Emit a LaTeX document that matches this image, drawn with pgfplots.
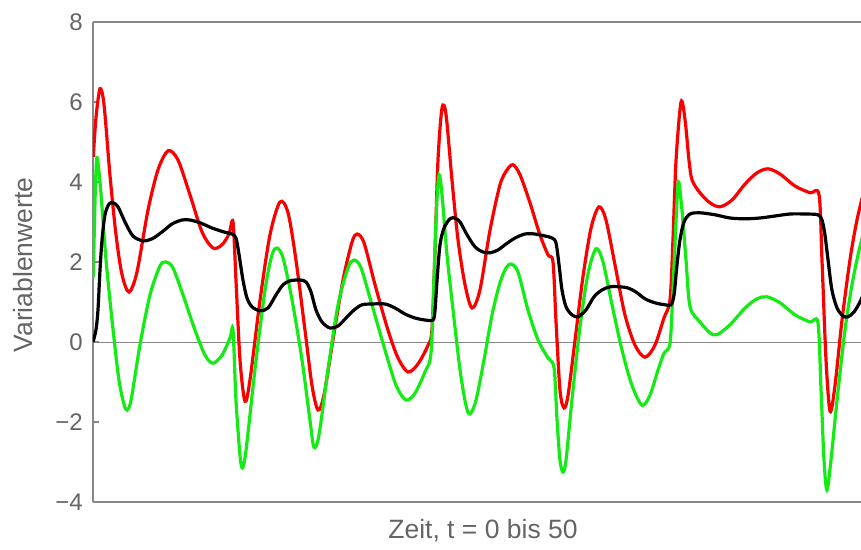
\documentclass[border=0pt]{standalone}
\usepackage{pgfplots}
\pgfplotsset{compat=1.18}
\usepackage{fontspec}
\setmainfont{Liberation Sans}
\definecolor{axgray}{RGB}{135,135,135}
\definecolor{txtgray}{RGB}{100,100,100}
\definecolor{myred}{RGB}{250,0,0}
\definecolor{mygreen}{RGB}{20,235,20}
\begin{document}
\begin{tikzpicture}
\useasboundingbox (-93pt,-47pt) rectangle (768pt,502pt);
\begin{axis}[
  at={(0pt,0pt)}, anchor=south west,
  scale only axis, width=777pt, height=480pt,
  xmin=0, xmax=50, ymin=-4, ymax=8,
  axis x line=box, axis y line=left,
  axis line style={-, axgray, line width=1.3pt},
  xtick=\empty,
  ytick={-4,-2,0,2,4,6,8},
  yticklabels={−4,−2,0,2,4,6,8},
  tick align=inside, major tick length=6pt,
  tick style={axgray, line width=1.1pt},
  yticklabel style={font=\fontsize{24}{24}\selectfont, text=txtgray, anchor=east, inner sep=0pt, xshift=-10pt},
  extra y ticks={0}, extra y tick labels={},
  extra y tick style={grid=major, major grid style={axgray, line width=1pt}},
  xlabel={Zeit, t = 0 bis 50},
  ylabel={Variablenwerte},
  every axis x label/.style={at={(axis description cs:0.5,0)}, anchor=base, yshift=-36pt, xshift=1.5pt, font=\fontsize{26.5}{26.5}\selectfont, text=txtgray},
  every axis y label/.style={at={(axis description cs:0,0.5)}, rotate=90, anchor=center, font=\fontsize{26.5}{26.5}\selectfont, text=txtgray, yshift=70pt, xshift=-3pt},
  every axis plot/.append style={line width=3.2pt, smooth, tension=0.5},
]
\addplot[myred] coordinates {
(0.02,4.63) (0.19,5.60) (0.45,6.33) (0.71,5.93) (1.09,4.18) (1.48,2.68) (1.87,1.68) (2.32,1.25)
(2.83,1.75) (3.54,3.30) (4.18,4.30) (4.83,4.78) (5.47,4.55) (6.24,3.68) (7.02,2.75) (7.72,2.35)
(8.30,2.43) (8.75,2.70) (9.01,3.00) (9.20,1.55) (9.46,-0.45) (9.78,-1.48) (10.10,-0.95) (10.75,1.05)
(11.39,2.68) (12.03,3.50) (12.55,3.23) (13.06,2.05) (13.64,0.30) (14.09,-1.08) (14.48,-1.70) (14.86,-1.33)
(15.44,0.05) (16.09,1.55) (16.67,2.50) (16.99,2.70) (17.44,2.48) (18.15,1.43) (18.98,0.30) (19.63,-0.40)
(20.27,-0.75) (20.91,-0.55) (21.56,-0.08) (21.81,0.30) (22.01,2.30) (22.20,4.55) (22.46,5.85) (22.72,5.68)
(23.10,4.05) (23.49,2.55) (23.94,1.43) (24.39,0.85) (24.90,1.30) (25.55,2.80) (26.19,3.93) (26.64,4.30)
(27.03,4.43) (27.48,4.18) (28.12,3.48) (28.76,2.68) (29.28,2.18) (29.60,2.00) (29.79,0.55) (30.05,-1.20)
(30.31,-1.65) (30.57,-1.33) (31.02,0.05) (31.53,1.63) (32.05,2.85) (32.56,3.38) (33.01,3.05) (33.59,1.93)
(34.23,0.68) (34.88,-0.08) (35.52,-0.38) (36.16,-0.08) (36.74,0.60) (37.13,1.05) (37.32,2.55) (37.52,4.55)
(37.84,6.00) (38.10,5.55) (38.35,4.55) (38.55,4.05) (39.06,3.73) (39.70,3.48) (40.35,3.38) (41.12,3.55)
(41.96,3.95) (42.73,4.23) (43.44,4.33) (44.21,4.20) (45.17,3.90) (46.14,3.73) (46.72,3.68) (46.91,2.05)
(47.17,-0.45) (47.43,-1.73) (47.75,-1.08) (48.20,0.55) (48.71,2.05) (49.10,2.93) (49.42,3.48) (49.74,3.95)
};
\addplot[mygreen] coordinates {
(0.02,1.63) (0.13,3.55) (0.23,4.55) (0.32,4.48) (0.51,3.73) (0.84,2.05) (1.27,0.38) (1.67,-0.95)
(1.99,-1.55) (2.19,-1.70) (2.45,-1.45) (3.02,-0.08) (3.67,1.18) (4.31,1.90) (4.70,2.00) (5.15,1.85)
(5.79,1.18) (6.56,0.30) (7.21,-0.33) (7.72,-0.53) (8.30,-0.33) (8.82,0.10) (9.01,0.30) (9.20,-1.45)
(9.46,-2.83) (9.62,-3.15) (9.85,-2.70) (10.42,-0.70) (11.07,1.30) (11.52,2.18) (11.84,2.35) (12.23,2.10)
(12.81,1.05) (13.45,-0.45) (13.96,-1.95) (14.22,-2.63) (14.54,-2.33) (15.12,-0.70) (15.77,0.93) (16.41,1.85)
(16.80,2.05) (17.25,1.85) (17.95,0.93) (18.79,-0.20) (19.50,-1.08) (20.14,-1.45) (20.72,-1.28) (21.36,-0.75)
(21.75,-0.28) (21.94,1.55) (22.10,3.30) (22.27,4.18) (22.46,3.68) (22.78,2.18) (23.17,0.80) (23.62,-0.70)
(24.00,-1.58) (24.26,-1.80) (24.65,-1.45) (25.16,-0.45) (25.68,0.68) (26.19,1.48) (26.58,1.85) (26.90,1.95)
(27.35,1.75) (27.99,0.80) (28.64,0.05) (29.28,-0.40) (29.67,-0.65) (29.86,-1.95) (30.05,-2.95) (30.24,-3.25)
(30.44,-2.95) (30.82,-1.45) (31.34,0.38) (31.85,1.70) (32.37,2.33) (32.82,2.00) (33.40,0.93) (34.04,-0.20)
(34.68,-1.08) (35.33,-1.58) (35.84,-1.33) (36.36,-0.70) (36.74,-0.28) (37.13,-0.03) (37.32,1.30) (37.52,3.05)
(37.68,4.00) (37.90,3.30) (38.16,2.05) (38.42,0.88) (39.06,0.50) (39.70,0.23) (40.15,0.18) (40.99,0.43)
(41.96,0.85) (42.73,1.08) (43.37,1.13) (44.21,0.98) (45.17,0.68) (46.14,0.50) (46.65,0.48) (46.85,-1.20)
(47.04,-2.95) (47.23,-3.70) (47.49,-2.95) (47.88,-1.45) (48.39,0.30) (48.84,1.43) (49.23,2.18) (49.42,2.48) (49.74,3.00)
};
\addplot[black] coordinates {
(0.00,0.00) (0.19,0.30) (0.32,0.80) (0.45,1.80) (0.58,2.55) (0.77,3.18) (1.03,3.45) (1.29,3.48)
(1.61,3.38) (2.06,3.00) (2.57,2.65) (3.22,2.53) (3.80,2.58) (4.44,2.75) (5.08,2.95) (5.73,3.05)
(6.24,3.05) (6.89,2.98) (7.66,2.85) (8.43,2.75) (8.94,2.70) (9.20,2.60) (9.40,2.18) (9.65,1.55)
(9.91,1.10) (10.23,0.88) (10.75,0.78) (11.26,0.85) (11.78,1.18) (12.23,1.43) (12.68,1.53) (13.32,1.55)
(13.71,1.50) (14.03,1.25) (14.35,0.80) (14.74,0.50) (15.25,0.35) (15.77,0.40) (16.28,0.60) (16.80,0.80)
(17.31,0.93) (17.95,0.95) (18.79,0.95) (19.43,0.85) (20.08,0.70) (20.72,0.60) (21.36,0.55) (21.88,0.55)
(22.01,0.80) (22.14,1.55) (22.33,2.43) (22.59,2.85) (22.97,3.08) (23.29,3.10) (23.62,3.00) (24.07,2.68)
(24.58,2.38) (25.10,2.25) (25.55,2.23) (26.06,2.30) (26.58,2.45) (27.16,2.60) (27.80,2.70) (28.44,2.70)
(29.09,2.65) (29.54,2.60) (29.79,2.48) (29.99,1.93) (30.18,1.30) (30.44,0.88) (30.82,0.68) (31.21,0.63)
(31.72,0.80) (32.24,1.13) (32.75,1.30) (33.27,1.38) (33.91,1.38) (34.43,1.35) (34.94,1.25) (35.52,1.08)
(36.16,0.98) (36.81,0.93) (37.19,0.93) (37.39,1.18) (37.58,1.93) (37.77,2.55) (38.03,3.00) (38.42,3.20)
(39.06,3.23) (40.03,3.18) (40.99,3.10) (41.96,3.08) (42.92,3.10) (43.89,3.15) (44.85,3.20) (45.82,3.20)
(46.65,3.18) (46.91,3.05) (47.10,2.68) (47.30,2.05) (47.55,1.30) (47.88,0.85) (48.26,0.65) (48.58,0.63)
(48.97,0.75) (49.42,1.05) (49.74,1.40)
};
\end{axis}
\end{tikzpicture}
\end{document}
